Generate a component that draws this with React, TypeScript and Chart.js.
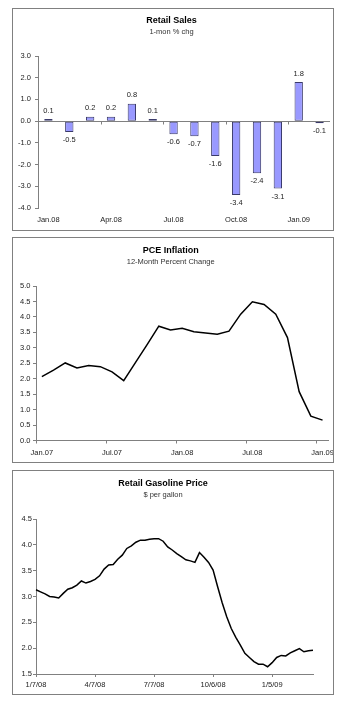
import React, { useEffect, useRef } from "react";
import { Chart, registerables } from "chart.js";

Chart.register(...registerables);

const FONT = "'Liberation Sans', Arial, Helvetica, sans-serif";
const AXIS = "#808080";
const TXT = "#222222";

// ---- Retail Sales ----
const salesMonths = ["Jan.08", "Feb.08", "Mar.08", "Apr.08", "May.08", "Jun.08", "Jul.08", "Aug.08", "Sep.08", "Oct.08", "Nov.08", "Dec.08", "Jan.09", "Feb.09"];
const salesChange = [0.1, -0.5, 0.2, 0.2, 0.8, 0.1, -0.6, -0.7, -1.6, -3.4, -2.4, -3.1, 1.8, -0.1];

// ---- PCE Inflation ----
const pceMonths = ["Jan.07", "Feb.07", "Mar.07", "Apr.07", "May.07", "Jun.07", "Jul.07", "Aug.07", "Sep.07", "Oct.07", "Nov.07", "Dec.07", "Jan.08", "Feb.08", "Mar.08", "Apr.08", "May.08", "Jun.08", "Jul.08", "Aug.08", "Sep.08", "Oct.08", "Nov.08", "Dec.08", "Jan.09"];
const pceInflation = [2.07, 2.28, 2.51, 2.35, 2.43, 2.39, 2.22, 1.94, 2.52, 3.10, 3.70, 3.58, 3.63, 3.52, 3.48, 3.44, 3.54, 4.09, 4.49, 4.40, 4.09, 3.33, 1.58, 0.79, 0.66];

// ---- Retail Gasoline Price ----
const gasWeeks = ["1/7/08", "1/14/08", "1/21/08", "1/28/08", "2/4/08", "2/11/08", "2/18/08", "2/25/08", "3/3/08", "3/10/08", "3/17/08", "3/24/08", "3/31/08", "4/7/08", "4/14/08", "4/21/08", "4/28/08", "5/5/08", "5/12/08", "5/19/08", "5/26/08", "6/2/08", "6/9/08", "6/16/08", "6/23/08", "6/30/08", "7/7/08", "7/14/08", "7/21/08", "7/28/08", "8/4/08", "8/11/08", "8/18/08", "8/25/08", "9/1/08", "9/8/08", "9/15/08", "9/22/08", "9/29/08", "10/6/08", "10/13/08", "10/20/08", "10/27/08", "11/3/08", "11/10/08", "11/17/08", "11/24/08", "12/1/08", "12/8/08", "12/15/08", "12/22/08", "12/29/08", "1/5/09", "1/12/09", "1/19/09", "1/26/09", "2/2/09", "2/9/09", "2/16/09", "2/23/09", "3/2/09", "3/9/09"];
const gasPrice = [3.13, 3.09, 3.05, 3.00, 2.99, 2.97, 3.06, 3.14, 3.17, 3.22, 3.30, 3.26, 3.29, 3.33, 3.40, 3.53, 3.61, 3.62, 3.72, 3.80, 3.93, 3.98, 4.05, 4.09, 4.09, 4.11, 4.12, 4.12, 4.07, 3.96, 3.90, 3.83, 3.77, 3.71, 3.69, 3.66, 3.85, 3.76, 3.66, 3.51, 3.19, 2.88, 2.61, 2.38, 2.21, 2.06, 1.90, 1.82, 1.74, 1.69, 1.69, 1.64, 1.72, 1.82, 1.86, 1.85, 1.91, 1.95, 1.99, 1.93, 1.95, 1.96];

type Layout = { L: number; R: number; H: number; t: number; ts: number; sb: number };

function baseOptions(title: string, subtitle: string, lay: Layout): any {
  return {
    responsive: false,
    animation: false,
    devicePixelRatio: 1,
    layout: { padding: { left: 0, right: lay.R, top: 0, bottom: 0 } },
    plugins: {
      legend: { display: false },
      tooltip: { enabled: false },
      title: {
        display: true,
        text: title,
        color: "#000",
        font: { family: FONT, size: 9, weight: "bold", lineHeight: 1.2 },
        padding: { top: lay.t, bottom: 0 },
      },
      subtitle: {
        display: true,
        text: subtitle,
        color: "#333",
        font: { family: FONT, size: 7.5, lineHeight: 1.2 },
        padding: { top: lay.ts, bottom: lay.sb },
      },
    },
  };
}

function yAxis(min: number, max: number, step: number, L: number, pad: number, zeroLine: boolean): any {
  return {
    min,
    max,
    ticks: {
      stepSize: step,
      autoSkip: false,
      color: TXT,
      font: { family: FONT, size: 7.5 },
      padding: pad,
      callback: (v: any) => Number(v).toFixed(1),
    },
    grid: {
      display: true,
      drawOnChartArea: zeroLine,
      drawTicks: true,
      tickLength: 3,
      color: zeroLine ? (ctx: any) => (ctx.tick && ctx.tick.value === 0 ? AXIS : "rgba(0,0,0,0)") : AXIS,
      tickColor: AXIS,
      lineWidth: 1,
    },
    border: { display: true, color: AXIS, width: 1 },
    afterFit: (s: any) => {
      s.width = L;
    },
  };
}

function xAxisFit(H: number) {
  return (s: any) => {
    s.height = H;
    s.paddingLeft = 0;
    s.paddingRight = 0;
  };
}

const barLabelsPlugin = {
  id: "barLabels",
  afterDatasetsDraw(chart: any) {
    const ctx = chart.ctx;
    const meta = chart.getDatasetMeta(0);
    const data = chart.data.datasets[0].data as number[];
    const xs = chart.scales.x;
    const ys = chart.scales.y;
    ctx.save();
    ctx.font = `7.5px ${FONT}`;
    ctx.fillStyle = TXT;
    ctx.textAlign = "center";
    ctx.textBaseline = "middle";
    meta.data.forEach((el: any, i: number) => {
      const v = data[i];
      const y = v >= 0 ? el.y - 8.5 : el.y + 8;
      ctx.fillText(v.toFixed(1), el.x, y);
    });
    // small tick marks on the zero line, every third category boundary
    const y0 = Math.round(ys.getPixelForValue(0)) + 0.5;
    ctx.strokeStyle = AXIS;
    ctx.lineWidth = 1;
    for (let i = 3; i < data.length; i += 3) {
      const x = Math.round((xs.getPixelForValue(i - 1) + xs.getPixelForValue(i)) / 2) + 0.5;
      ctx.beginPath();
      ctx.moveTo(x, y0);
      ctx.lineTo(x, y0 + 3);
      ctx.stroke();
    }
    ctx.restore();
  },
};

function salesConfig(): any {
  const lay = { L: 25, R: 3, H: 22, t: 6.3, ts: 1.4, sb: 19.5 };
  const opts = baseOptions("Retail Sales", "1-mon % chg", lay);
  opts.scales = {
    x: {
      offset: true,
      grid: { display: false, drawTicks: false },
      border: { display: false },
      ticks: {
        autoSkip: false,
        maxRotation: 0,
        padding: 7.5,
        color: TXT,
        font: { family: FONT, size: 7.5 },
        callback: (_v: any, i: number) => (i % 3 === 0 ? salesMonths[i] : ""),
      },
      afterFit: xAxisFit(lay.H),
    },
    y: yAxis(-4, 3, 1, lay.L, 4, true),
  };
  return {
    type: "bar",
    data: {
      labels: salesMonths,
      datasets: [
        {
          data: salesChange,
          backgroundColor: "#9999ff",
          borderColor: "#3a3a6a",
          borderWidth: 1,
          borderSkipped: false,
          barPercentage: 0.4,
          categoryPercentage: 1,
        },
      ],
    },
    options: opts,
    plugins: [barLabelsPlugin],
  };
}

function pceConfig(): any {
  const lay = { L: 23, R: 4.6, H: 21.5, t: 7.3, ts: 1.1, sb: 19.8 };
  const opts = baseOptions("PCE Inflation", "12-Month Percent Change", lay);
  const sel = (ctx: any) => (ctx.index % 6 === 0 ? AXIS : "rgba(0,0,0,0)");
  opts.scales = {
    x: {
      offset: true,
      grid: { display: true, offset: true, drawOnChartArea: false, tickLength: 3, color: sel, tickColor: sel },
      border: { display: true, color: AXIS, width: 1 },
      ticks: {
        autoSkip: false,
        maxRotation: 0,
        padding: 5,
        color: TXT,
        font: { family: FONT, size: 7.5 },
        callback: (_v: any, i: number) => (i % 6 === 0 ? pceMonths[i] : ""),
      },
      afterFit: xAxisFit(lay.H),
    },
    y: yAxis(0, 5, 0.5, lay.L, 2.5, false),
  };
  return {
    type: "line",
    data: {
      labels: pceMonths,
      datasets: [
        {
          data: pceInflation,
          borderColor: "#000",
          borderWidth: 1.5,
          pointRadius: 0,
          tension: 0,
          fill: false,
        },
      ],
    },
    options: opts,
  };
}

function gasConfig(): any {
  const lay = { L: 23, R: 20, H: 20, t: 7.6, ts: 1.1, sb: 19.5 };
  const opts = baseOptions("Retail Gasoline Price", "$ per gallon", lay);
  const sel = (ctx: any) => (ctx.index % 13 === 0 ? AXIS : "rgba(0,0,0,0)");
  opts.scales = {
    x: {
      offset: false,
      grid: { display: true, drawOnChartArea: false, tickLength: 3, color: sel, tickColor: sel },
      border: { display: true, color: AXIS, width: 1 },
      ticks: {
        autoSkip: false,
        maxRotation: 0,
        padding: 3.8,
        color: TXT,
        font: { family: FONT, size: 7.5 },
        callback: (_v: any, i: number) => (i % 13 === 0 ? gasWeeks[i] : ""),
      },
      afterFit: xAxisFit(lay.H),
    },
    y: yAxis(1.5, 4.5, 0.5, lay.L, 1, false),
  };
  return {
    type: "line",
    data: {
      labels: gasWeeks,
      datasets: [
        {
          data: gasPrice,
          borderColor: "#000",
          borderWidth: 1.5,
          pointRadius: 0,
          tension: 0,
          fill: false,
        },
      ],
    },
    options: opts,
  };
}

function Panel({ top, height, build }: { top: number; height: number; build: () => any }) {
  const ref = useRef<HTMLCanvasElement | null>(null);
  useEffect(() => {
    const chart = new Chart(ref.current as HTMLCanvasElement, build());
    return () => chart.destroy();
  }, []);
  const inner = height - 2;
  return (
    <div
      style={{
        position: "absolute",
        left: 12,
        top,
        width: 322,
        height,
        border: `1px solid ${AXIS}`,
        boxSizing: "border-box",
        background: "#fff",
      }}
    >
      <canvas ref={ref} width={320} height={inner} style={{ display: "block", width: 320, height: inner }} />
    </div>
  );
}

export default function App() {
  return (
    <div style={{ position: "absolute", left: 0, top: 0, width: 345, height: 705, background: "#fff" }}>
      <Panel top={8} height={223} build={salesConfig} />
      <Panel top={237} height={226} build={pceConfig} />
      <Panel top={470} height={225} build={gasConfig} />
    </div>
  );
}
